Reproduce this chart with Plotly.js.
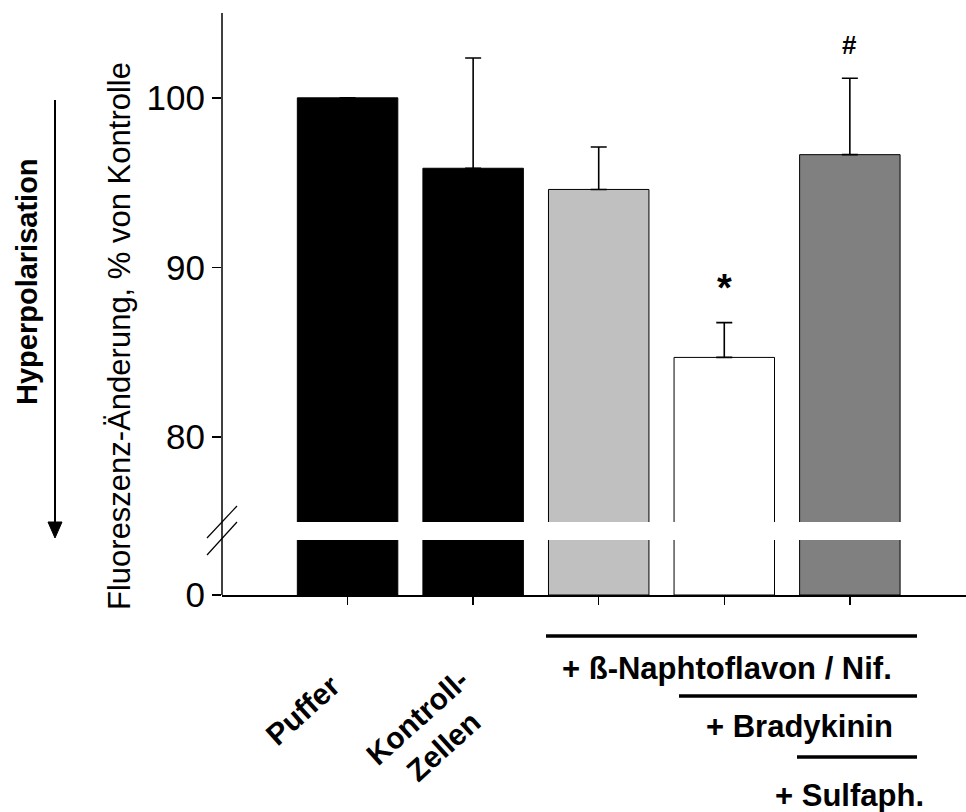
<!DOCTYPE html>
<html>
<head>
<meta charset="utf-8">
<script src="https://cdn.plot.ly/plotly-3.0.1.min.js"></script>
<style>html,body{margin:0;padding:0;background:#fff;}#chart{width:966px;height:812px;}</style>
</head>
<body>
<div id="chart"></div>
<script>
// ---- data ----
const categories = ['Puffer', 'Kontroll-Zellen', 'ß-Naphtoflavon / Nif.', 'Bradykinin', 'Sulfaph.'];
const values = [100, 95.85, 94.6, 84.7, 96.65];
const semUpper = [0, 6.5, 2.5, 2.05, 4.5];
const barColors = ['#000000', '#000000', '#c0c0c0', '#ffffff', '#808080'];
const upperTicks = [80, 90, 100];
const lowerTicks = [0];
const sigMarks = ['', '', '', '*', '#'];
const sigLevels = [null, null, null, 88.8, 103.1];
const xLabels = ['Puffer', 'Kontroll-<br>Zellen'];
const treatmentLabels = ['+ ß-Naphtoflavon / Nif.', '+ Bradykinin', '+ Sulfaph.'];

// ---- geometry helpers (pixel -> paper) ----
const W = 966, H = 812;
const M = {l: 222, r: 0, t: 13, b: 217};
const PW = W - M.l - M.r, PH = H - M.t - M.b;
const px = x => (x - M.l) / PW;
const py = y => (H - M.b - y) / PH;

const FONT = 'Liberation Sans, Arial, Helvetica, sans-serif';

const barBase = {
  type: 'bar',
  x: categories,
  y: values,
  width: 0.8,
  marker: {color: barColors, line: {color: '#000000', width: 1}},
  hoverinfo: 'x+y',
  showlegend: false
};

const upperTrace = Object.assign({}, barBase, {
  xaxis: 'x', yaxis: 'y2',
  error_y: {type: 'data', symmetric: false, array: semUpper, arrayminus: semUpper.map(() => 0),
            color: '#000000', thickness: 1.6, width: 8}
});
const lowerTrace = Object.assign({}, barBase, {xaxis: 'x', yaxis: 'y'});

const shapes = [];
// continuous y axis line
shapes.push({type: 'line', xref: 'paper', yref: 'paper', x0: 0, x1: 0, y0: 0, y1: py(13),
             line: {color: '#000', width: 1.5}});
// break slashes
shapes.push({type: 'line', xref: 'paper', yref: 'paper', x0: px(207), y0: py(538), x1: px(237), y1: py(506),
             line: {color: '#000', width: 1.2}});
shapes.push({type: 'line', xref: 'paper', yref: 'paper', x0: px(207), y0: py(555), x1: px(237), y1: py(522),
             line: {color: '#000', width: 1.2}});
// Hyperpolarisation arrow
shapes.push({type: 'line', xref: 'paper', yref: 'paper', x0: px(55), x1: px(55), y0: py(100), y1: py(524),
             line: {color: '#000', width: 2}});
shapes.push({type: 'path', xref: 'paper', yref: 'paper',
             path: 'M ' + px(48) + ' ' + py(522) + ' L ' + px(62) + ' ' + py(522) + ' L ' + px(55) + ' ' + py(538) + ' Z',
             fillcolor: '#000', line: {color: '#000', width: 1}});
// treatment lines
const treatLines = [[546, 917, 636], [679, 917, 696], [797, 917, 757]];
treatLines.forEach(l => shapes.push({type: 'line', xref: 'paper', yref: 'paper',
  x0: px(l[0]), x1: px(l[1]), y0: py(l[2]), y1: py(l[2]), line: {color: '#000', width: 3.5}}));

const annotations = [];
// significance marks
sigMarks.forEach((m, i) => {
  if (!m) return;
  annotations.push({xref: 'x', yref: 'y2', x: categories[i], y: sigLevels[i], text: '<b>' + m + '</b>',
    showarrow: false, xanchor: 'center', yanchor: 'middle',
    font: {family: FONT, size: m === '*' ? 38 : 26, color: '#000'}});
});
// y-axis title
annotations.push({xref: 'paper', yref: 'paper', x: px(119), y: py(336), text: 'Fluoreszenz-Änderung, % von Kontrolle',
  textangle: -90, showarrow: false, xanchor: 'center', yanchor: 'middle',
  font: {family: FONT, size: 31, color: '#000'}});
// Hyperpolarisation
annotations.push({xref: 'paper', yref: 'paper', x: px(27), y: py(282), text: '<b>Hyperpolarisation</b>',
  textangle: -90, showarrow: false, xanchor: 'center', yanchor: 'middle',
  font: {family: FONT, size: 29, color: '#000'}});
// x category labels
const xLabelPos = [[302, 710], [430, 732]];
xLabels.forEach((t, i) => annotations.push({xref: 'paper', yref: 'paper', x: px(xLabelPos[i][0]), y: py(xLabelPos[i][1]),
  text: '<b>' + t + '</b>', textangle: -42, showarrow: false, xanchor: 'center', yanchor: 'middle', align: 'center',
  font: {family: FONT, size: 30, color: '#000'}}));
// treatment labels
const treatPos = [[727, 668], [799, 726], [849, 795]];
treatmentLabels.forEach((t, i) => annotations.push({xref: 'paper', yref: 'paper', x: px(treatPos[i][0]), y: py(treatPos[i][1]),
  text: '<b>' + t + '</b>', showarrow: false, xanchor: 'center', yanchor: 'middle',
  font: {family: FONT, size: 31, color: '#000'}}));

const layout = {
  width: W, height: H,
  margin: M,
  paper_bgcolor: '#ffffff', plot_bgcolor: 'rgba(0,0,0,0)',
  font: {family: FONT, color: '#000'},
  bargap: 0.2,
  xaxis: {
    type: 'category', range: [-1, 4.925], anchor: 'y',
    showline: true, linecolor: '#000', linewidth: 1.5,
    ticks: 'outside', ticklen: 8, tickwidth: 1.5, tickcolor: '#000',
    showticklabels: false, showgrid: false, zeroline: false, fixedrange: true
  },
  yaxis: {
    domain: [0, 55 / PH], range: [0, 10], anchor: 'x',
    tickvals: lowerTicks, ticktext: lowerTicks.map(String),
    ticks: 'outside', ticklen: 9, tickwidth: 1.5, tickcolor: '#000',
    showline: false, showgrid: false, zeroline: false,
    tickfont: {family: FONT, size: 35, color: '#000'}, fixedrange: true
  },
  yaxis2: {
    domain: [73 / PH, 1], range: [75, 105], anchor: 'x',
    tickvals: upperTicks, ticktext: upperTicks.map(String),
    ticks: 'outside', ticklen: 9, tickwidth: 1.5, tickcolor: '#000',
    showline: false, showgrid: false, zeroline: false,
    tickfont: {family: FONT, size: 35, color: '#000'}, fixedrange: true
  },
  shapes: shapes,
  annotations: annotations
};

Plotly.newPlot('chart', [lowerTrace, upperTrace], layout, {displayModeBar: false, staticPlot: true});
</script>
</body>
</html>
